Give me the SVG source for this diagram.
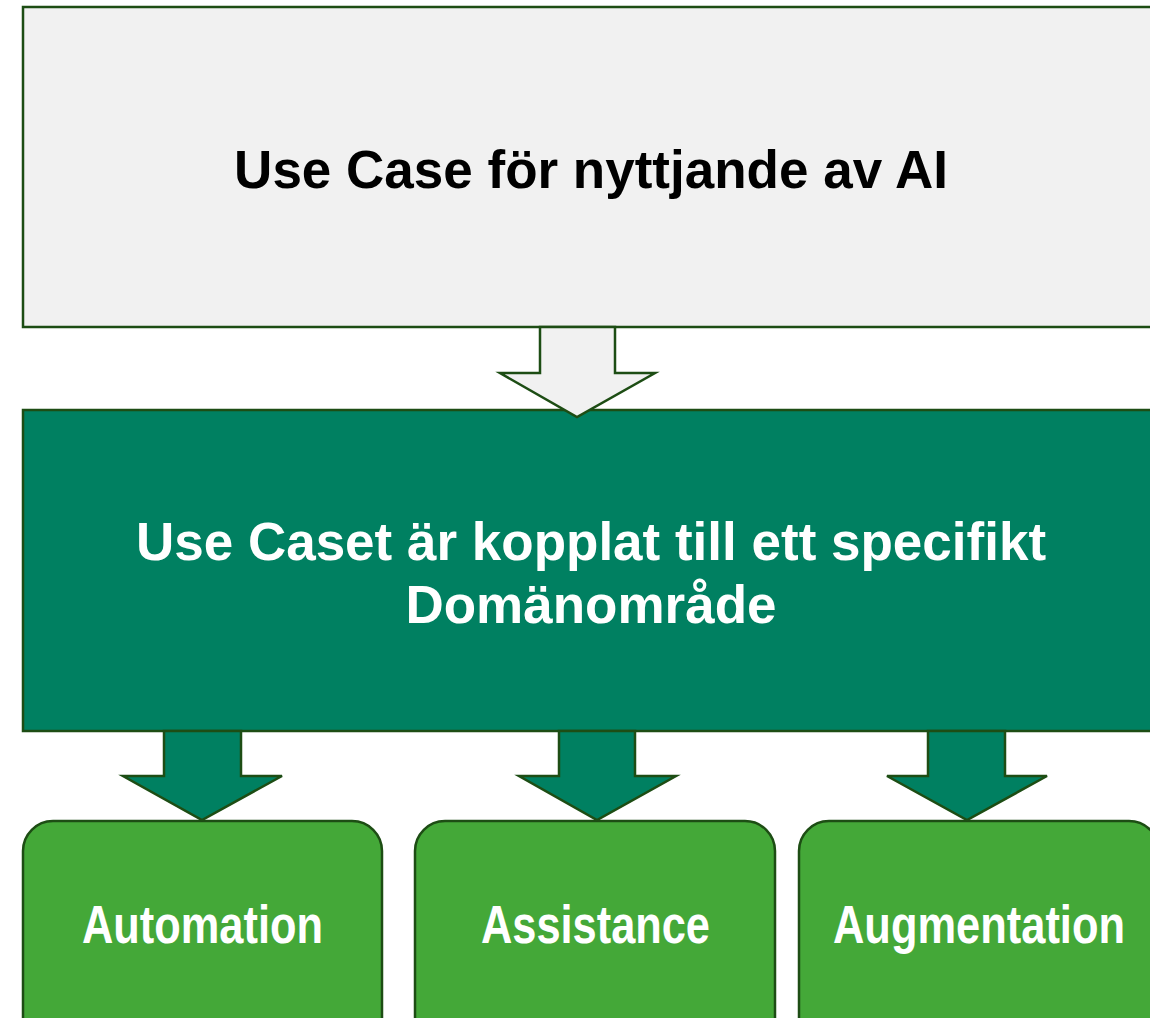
<svg xmlns="http://www.w3.org/2000/svg" width="1150" height="1018" viewBox="0 0 1150 1018">
<style>
.st{stroke:#1d4d14;stroke-width:2.5;stroke-linejoin:miter}
.t{font-family:"Liberation Sans",Arial,sans-serif;font-weight:bold;font-size:53px;text-anchor:middle}
.n{font-family:"Liberation Sans Narrow","Arial Narrow","Liberation Sans",sans-serif;font-weight:bold;font-size:53px;text-anchor:middle;fill:#ffffff}
</style>
<rect width="1150" height="1018" fill="#ffffff"/>
<g id="node-top">
<rect class="st" x="23" y="7" width="1137" height="320" fill="#f1f1f1"/>
<text class="t" x="591" y="188" fill="#000000">Use Case för nyttjande av AI</text>
</g>
<g id="node-domain">
<rect class="st" x="23" y="410" width="1137" height="321" fill="#008061"/>
<text class="t" x="591" y="560" fill="#ffffff">Use Caset är kopplat till ett specifikt</text>
<text class="t" x="591" y="623" fill="#ffffff">Domänområde</text>
</g>
<g id="node-automation">
<rect class="st" x="23" y="821" width="359" height="230" rx="30" ry="30" fill="#44a838"/>
<text class="n" x="202.5" y="943" textLength="241" lengthAdjust="spacingAndGlyphs">Automation</text>
</g>
<g id="node-assistance">
<rect class="st" x="415" y="821" width="360" height="230" rx="30" ry="30" fill="#44a838"/>
<text class="n" x="595.5" y="943" textLength="229" lengthAdjust="spacingAndGlyphs">Assistance</text>
</g>
<g id="node-augmentation">
<rect class="st" x="799" y="821" width="360" height="230" rx="30" ry="30" fill="#44a838"/>
<text class="n" x="979" y="943" textLength="292" lengthAdjust="spacingAndGlyphs">Augmentation</text>
</g>
<g id="connectors">
<polygon class="st" fill="#f1f1f1" points="540,327 615,327 615,373 655,373 577,417 500,373 540,373"/>
<polygon class="st" fill="#008061" points="164,731 241,731 241,776 282,776 202,820 123,776 164,776"/>
<polygon class="st" fill="#008061" points="559,731 635,731 635,776 676,776 597,820 519,776 559,776"/>
<polygon class="st" fill="#008061" points="928,731 1005,731 1005,776 1047,776 967,820 887,776 928,776"/>
</g>
</svg>
